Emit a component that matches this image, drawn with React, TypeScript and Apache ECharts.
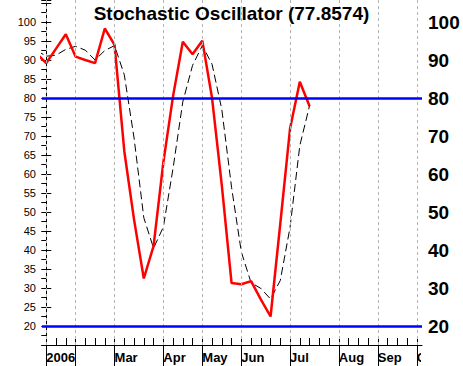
import React, { useEffect, useRef } from 'react';
import * as echarts from 'echarts';

// Week index (0 = first week of Jan 2006)
const weeks = [-1, 0, 1, 2, 3, 4, 5, 6, 7, 8, 9, 10, 11, 12, 13, 14, 15, 16, 17, 18, 19, 20, 21, 22, 23, 24, 25, 26, 27];
// %K (red)
const kValues = [91.7, 89.2, 93.0, 96.8, 90.9, 90.0, 89.2, 98.3, 94.0, 66.0, 48.0, 32.5, 41.0, 63.0, 80.5, 94.8, 91.5, 95.1, 80.0, 57.0, 31.3, 31.0, 31.8, 27.0, 22.5, 47.0, 72.0, 84.3, 77.8574];
// %D (black dashed)
const dValues = [92.5, 91.0, 91.3, 92.8, 93.6, 92.6, 90.0, 92.5, 93.8, 86.1, 69.5, 48.5, 40.5, 46.0, 61.5, 79.0, 88.6, 93.8, 88.9, 77.0, 56.5, 39.5, 31.4, 29.9, 27.1, 32.0, 46.0, 67.5, 78.0];

const weekTicks = [0, 1, 2, 3, 4, 5, 6, 7, 8, 9, 10, 11, 12, 13, 14, 15, 16, 17, 18, 19, 20, 21, 22, 23, 24, 25, 26, 27, 28, 29, 30, 31, 32, 33, 34, 35, 36, 37, 38];
const monthStarts = [0, 3, 7, 12, 16, 20, 25, 30, 34, 38];
const monthLabelWeeks = [0, 7, 12, 16, 20, 25, 30, 34, 38];
const monthLabels = ['2006', 'Mar', 'Apr', 'May', 'Jun', 'Jul', 'Aug', 'Sep', 'Oct'];
const levels = [80, 20];
const titleText = 'Stochastic Oscillator (77.8574)';

const FONT = "'Liberation Sans', Arial, sans-serif";

export default function App() {
  const ref = useRef<HTMLDivElement>(null);
  useEffect(() => {
    if (!ref.current) return;
    const chart = echarts.init(ref.current, undefined, { renderer: 'svg' });
    const xCommon = { type: 'value', min: -0.44, max: 38.53, position: 'bottom', splitLine: { show: false } };
    chart.setOption({
      animation: false,
      backgroundColor: '#ffffff',
      title: {
        text: titleText,
        left: 'center',
        top: 4,
        padding: 0,
        textStyle: { fontSize: 19, fontWeight: 'bold', color: '#000', fontFamily: FONT },
      },
      grid: { left: 42, right: 41, top: 0, bottom: 21, containLabel: false, outerBoundsMode: 'none' },
      xAxis: [
        {
          ...xCommon,
          axisLine: { show: true, onZero: false, lineStyle: { color: '#000', width: 1 } },
          axisTick: { show: true, inside: true, length: 7, customValues: weekTicks, lineStyle: { color: '#000' } },
          axisLabel: {
            show: true,
            customValues: monthLabelWeeks,
            align: 'left',
            margin: 6,
            fontSize: 13,
            fontWeight: 'bold',
            color: '#000',
            fontFamily: FONT,
            formatter: (v: number) => {
              const idx = monthLabelWeeks.indexOf(v);
              return idx >= 0 ? monthLabels[idx] : '';
            },
          },
        },
        {
          ...xCommon,
          axisLine: { show: false, onZero: false },
          axisTick: { show: true, inside: false, length: 21, customValues: monthStarts, lineStyle: { color: '#000' } },
          axisLabel: { show: false, customValues: monthStarts },
        },
      ],
      yAxis: [
        {
          type: 'value',
          position: 'left',
          min: 15,
          max: 105.8,
          interval: 2.5,
          axisLine: { show: true, lineStyle: { color: '#000', width: 1 } },
          axisTick: { show: true, length: 5, lineStyle: { color: '#000' } },
          axisLabel: {
            fontSize: 11,
            color: '#000',
            margin: 6,
            fontFamily: FONT,
            formatter: (v: number) => (v % 5 === 0 && v >= 20 && v <= 100 ? String(v) : ''),
          },
          splitLine: { show: false },
        },
        {
          type: 'value',
          position: 'right',
          min: 15,
          max: 105.8,
          interval: 5,
          axisLine: { show: true, lineStyle: { color: '#000', width: 1 } },
          axisTick: { show: true, length: 5, lineStyle: { color: '#000' } },
          axisLabel: {
            fontSize: 19,
            fontWeight: 'bold',
            color: '#000',
            margin: 6,
            fontFamily: FONT,
            formatter: (v: number) => (v % 10 === 0 && v >= 20 && v <= 100 ? String(v) : ''),
          },
          splitLine: { show: false },
        },
      ],
      graphic: [
        {
          type: 'rect',
          z: 100,
          shape: { x: 421, y: 347, width: 42, height: 19 },
          style: { fill: '#ffffff' },
        },
      ],
      series: [
        {
          type: 'line',
          name: 'levels',
          data: [],
          z: 1,
          silent: true,
          markLine: {
            silent: true,
            symbol: ['none', 'none'],
            label: { show: false },
            animation: false,
            data: [
              ...monthStarts.map((v) => ({ xAxis: v, lineStyle: { color: '#b4b4b4', type: [3, 3], width: 1 } })),
              ...levels.map((v) => ({ yAxis: v, lineStyle: { color: '#0000ff', type: 'solid', width: 2.5 } })),
            ],
          },
        },
        {
          type: 'line',
          name: '%D',
          data: weeks.map((w, i) => [w, dValues[i]]),
          showSymbol: false,
          z: 2,
          lineStyle: { color: '#000', width: 1, type: [8, 4] },
        },
        {
          type: 'line',
          name: '%K',
          data: weeks.map((w, i) => [w, kValues[i]]),
          showSymbol: false,
          z: 3,
          lineStyle: { color: '#ff0000', width: 2.5 },
        },
      ],
    });
    return () => chart.dispose();
  }, []);
  return <div ref={ref} style={{ position: 'fixed', left: 0, top: 0, width: 463, height: 366 }} />;
}
